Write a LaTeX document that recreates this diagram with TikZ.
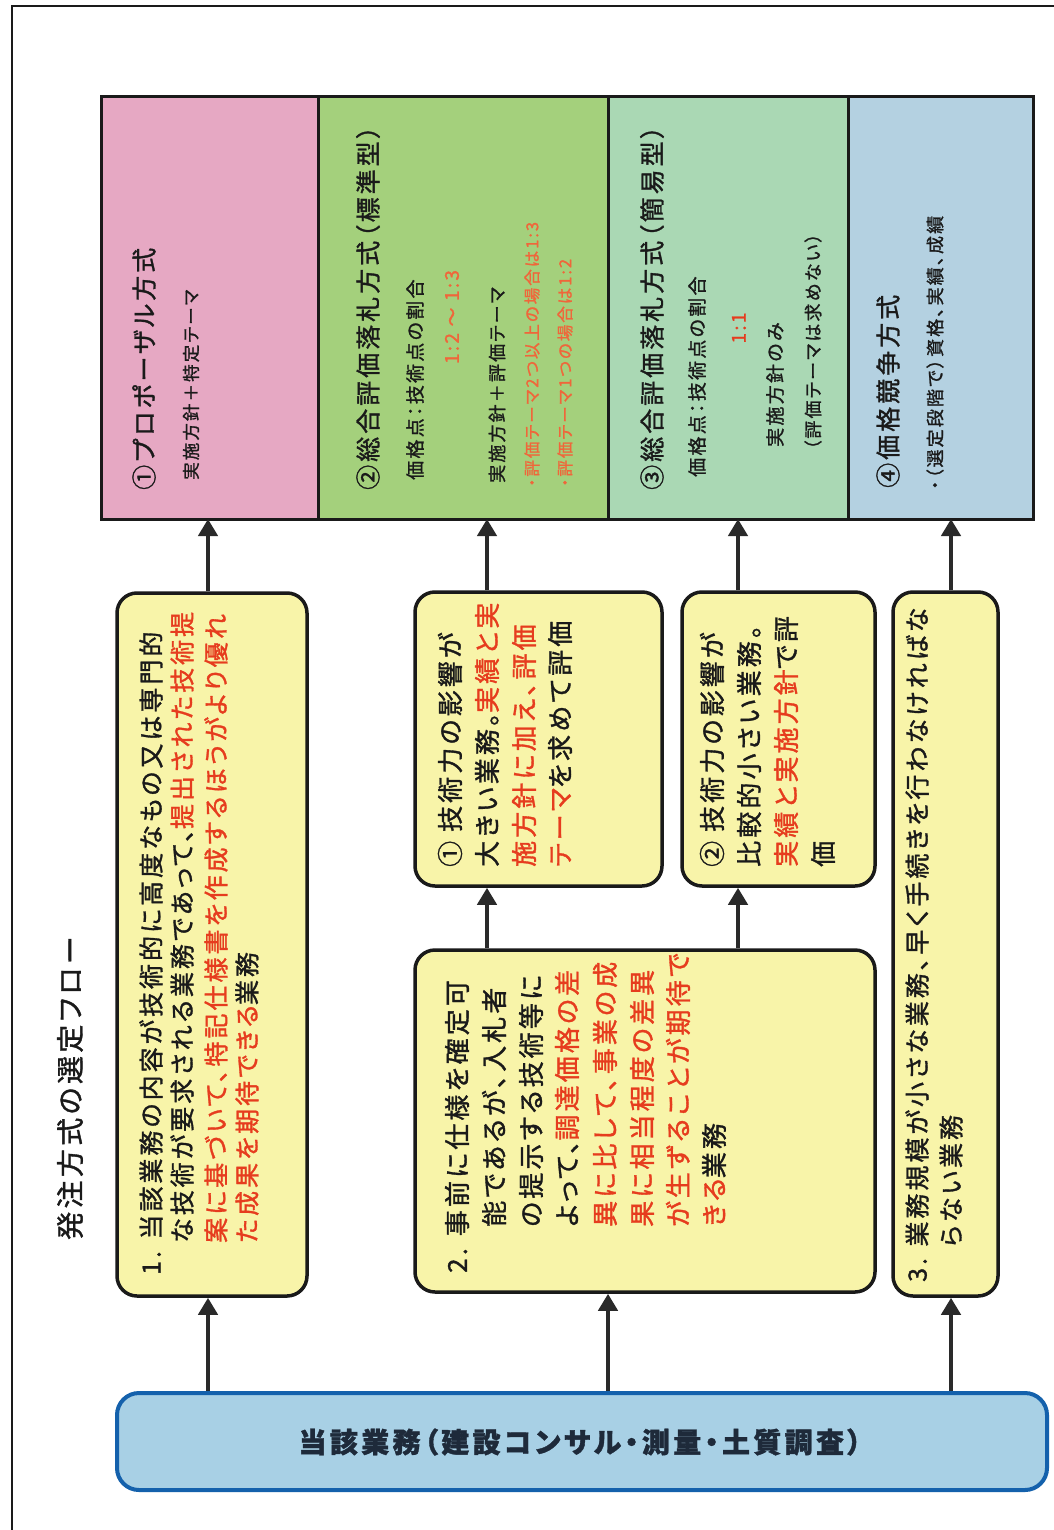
\documentclass[tikz,border=0pt]{standalone}
\usepackage{fontspec}
\setmainfont{Noto Sans CJK JP}[RawFeature={+palt;embolden=1.3}, LetterSpace=12]
\usetikzlibrary{arrows.meta}
\definecolor{pinkc}{HTML}{E6A8C3}
\definecolor{greenc}{HTML}{A4D07C}
\definecolor{tealc}{HTML}{AAD8B4}
\definecolor{bluec}{HTML}{B4D1E1}
\definecolor{yelc}{HTML}{F8F4A9}
\definecolor{bboxc}{HTML}{A8D0E5}
\definecolor{bborder}{HTML}{1461AC}
\definecolor{redc}{HTML}{E63C1E}
\definecolor{orc}{HTML}{F0663A}
\definecolor{arrc}{HTML}{2A2A2A}
\definecolor{txt}{HTML}{1A1A1A}
\definecolor{navyt}{HTML}{1E2A3A}
\begin{document}
\begin{tikzpicture}[x=1pt,y=-1pt,
  colbox/.style={draw=txt, line width=3pt, inner sep=0pt, outer sep=0pt},
  ybox/.style={draw=txt, fill=yelc, line width=3.5pt, rounded corners=20pt, inner sep=0pt},
  vt/.style={rotate=90, anchor=west, inner sep=0pt, text=txt},
  vc/.style={rotate=90, anchor=center, inner sep=0pt},
  fsz/.style={font={\fontsize{#1}{#1}\selectfont}},
  arr/.style={draw=arrc, line width=4.5pt, -{Triangle[length=17pt,width=19pt]}},
  rd/.style={text=redc},
]
\useasboundingbox (0,0) rectangle (1053,1530);
\fill[white] (0,0) rectangle (1053,1530);
% outer frame
\draw[line width=1.6pt, txt] (12,1545) -- (12,6) -- (1070,6);

% title
\node[vt, fsz=28] (title) at (70,1240) {発注方式の選定フロー};

% method columns
\node[colbox, fill=pinkc, minimum width=217pt, minimum height=422pt] (colP) at (209.5,308) {};
\node[colbox, fill=greenc, minimum width=290pt, minimum height=422pt] (colG) at (463,308) {};
\node[colbox, fill=tealc, minimum width=240pt, minimum height=422pt] (colT) at (728,308) {};
\node[colbox, fill=bluec, minimum width=185pt, minimum height=422pt] (colB) at (940.5,308) {};

% pink column text
\node[vt, fsz=25] (p1) at (144,490) {①プロポーザル方式};
\node[vt, fsz=17.5] (p2) at (191,480) {実施方針＋特定テーマ};
% green column text
\node[vt, fsz=25] (g1) at (368,490) {②総合評価落札方式（標準型）};
\node[vt, fsz=19] (g2) at (415,480) {価格点：技術点の割合};
\node[vc, fsz=19, text=orc] (g3) at (452,317) {1:2 ～ 1:3};
\node[vt, fsz=18] (g4) at (497,483) {実施方針＋評価テーマ};
\node[vt, fsz=16.5, text=orc] (g5) at (532,487) {・評価テーマ2つ以上の場合は1:3};
\node[vt, fsz=16.5, text=orc] (g6) at (565,487) {・評価テーマ1つの場合は1:2};
% teal column text
\node[vt, fsz=25] (s1) at (652,490) {③総合評価落札方式（簡易型）};
\node[vt, fsz=19] (s2) at (697,477) {価格点：技術点の割合};
\node[vc, fsz=19, text=redc] (s3) at (739,328) {1:1};
\node[vt, fsz=19] (s4) at (775,447) {実施方針のみ};
\node[vt, fsz=18] (s5) at (813,450) {（評価テーマは求めない）};
% blue column text
\node[vt, fsz=25] (k1) at (888,488) {④価格競争方式};
\node[vt, fsz=18] (k2) at (935,490) {・（選定段階で）資格、実績、成績};

% yellow boxes
\node[ybox, minimum width=190pt, minimum height=703pt] (b1) at (212,944.5) {};
\node[ybox, minimum width=247pt, minimum height=294pt] (bA) at (538.5,739) {};
\node[ybox, minimum width=193pt, minimum height=294pt] (bB) at (778.5,739) {};
\node[ybox, minimum width=460pt, minimum height=342pt] (b2) at (645,1121) {};
\node[ybox, minimum width=105pt, minimum height=704pt] (b3) at (945.5,944) {};

% box 1 text
\node[vt, fsz=25] (t11) at (151,1275) {1. 当該業務の内容が技術的に高度なもの又は専門的};
\node[vt, fsz=25] (t12) at (182,1243) {な技術が要求される業務であって、\textcolor{redc}{提出された技術提}};
\node[vt, fsz=25, rd] (t13) at (216,1243) {案に基づいて、特記仕様書を作成するほうがより優れ};
\node[vt, fsz=25] (t14) at (247,1243) {\textcolor{redc}{た成果を期待できる}業務};

% box A text
\node[vt, fsz=26] (ta1) at (450,867) {① 技術力の影響が};
\node[vt, fsz=26] (ta2) at (487,867) {大きい業務。\textcolor{redc}{実績と実}};
\node[vt, fsz=26, rd] (ta3) at (524,867) {施方針に加え、評価};
\node[vt, fsz=26] (ta4) at (560,867) {\textcolor{redc}{テーマ}を求めて評価};

% box B text
\node[vt, fsz=26] (tb1) at (712,867) {② 技術力の影響が};
\node[vt, fsz=26] (tb2) at (749,867) {比較的小さい業務。};
\node[vt, fsz=26] (tb3) at (786,867) {\textcolor{redc}{実績と実施方針}で評};
\node[vt, fsz=26] (tb4) at (823,867) {価};

% box 2 text
\node[vt, fsz=26] (t21) at (457,1273) {2. 事前に仕様を確定可};
\node[vt, fsz=26] (t22) at (494,1227) {能であるが、入札者};
\node[vt, fsz=26] (t23) at (531,1227) {の提示する技術等に};
\node[vt, fsz=26] (t24) at (567,1227) {よって、\textcolor{redc}{調達価格の差}};
\node[vt, fsz=26, rd] (t25) at (605,1227) {異に比して、事業の成};
\node[vt, fsz=26, rd] (t26) at (642,1227) {果に相当程度の差異};
\node[vt, fsz=26, rd] (t27) at (678,1227) {が生ずることが期待で};
\node[vt, fsz=26] (t28) at (714,1227) {\textcolor{redc}{きる}業務};

% box 3 text
\node[vt, fsz=25] (t31) at (917,1282) {3. 業務規模が小さな業務、早く手続きを行わなければな};
\node[vt, fsz=25] (t32) at (951,1247) {らない業務};

% bottom box
\node[draw=bborder, fill=bboxc, line width=4pt, rounded corners=22pt, minimum width=930pt, minimum height=97pt, inner sep=0pt] (blue) at (582,1441.5) {};
\node[font={\fontsize{28}{28}\selectfont\bfseries}, text=navyt, inner sep=0pt] (bt) at (580,1442) {当該業務（建設コンサル・測量・土質調査）};

% arrow x positions
\coordinate (xa) at (208,0);
\coordinate (xb) at (608,0);
\coordinate (xc) at (951,0);
\coordinate (xd) at (487,0);
\coordinate (xe) at (738,0);

% connectors
\draw[arr] (blue.north -| xa) -- (b1.south -| xa);
\draw[arr] (blue.north -| xb) -- (b2.south -| xb);
\draw[arr] (blue.north -| xc) -- (b3.south -| xc);
\draw[arr] (b1.north -| xa) -- (colP.south -| xa);
\draw[arr] (b2.north -| xd) -- (bA.south -| xd);
\draw[arr] (b2.north -| xe) -- (bB.south -| xe);
\draw[arr] (bA.north -| xd) -- (colG.south -| xd);
\draw[arr] (bB.north -| xe) -- (colT.south -| xe);
\draw[arr] (b3.north -| xc) -- (colB.south -| xc);
\end{tikzpicture}
\end{document}
